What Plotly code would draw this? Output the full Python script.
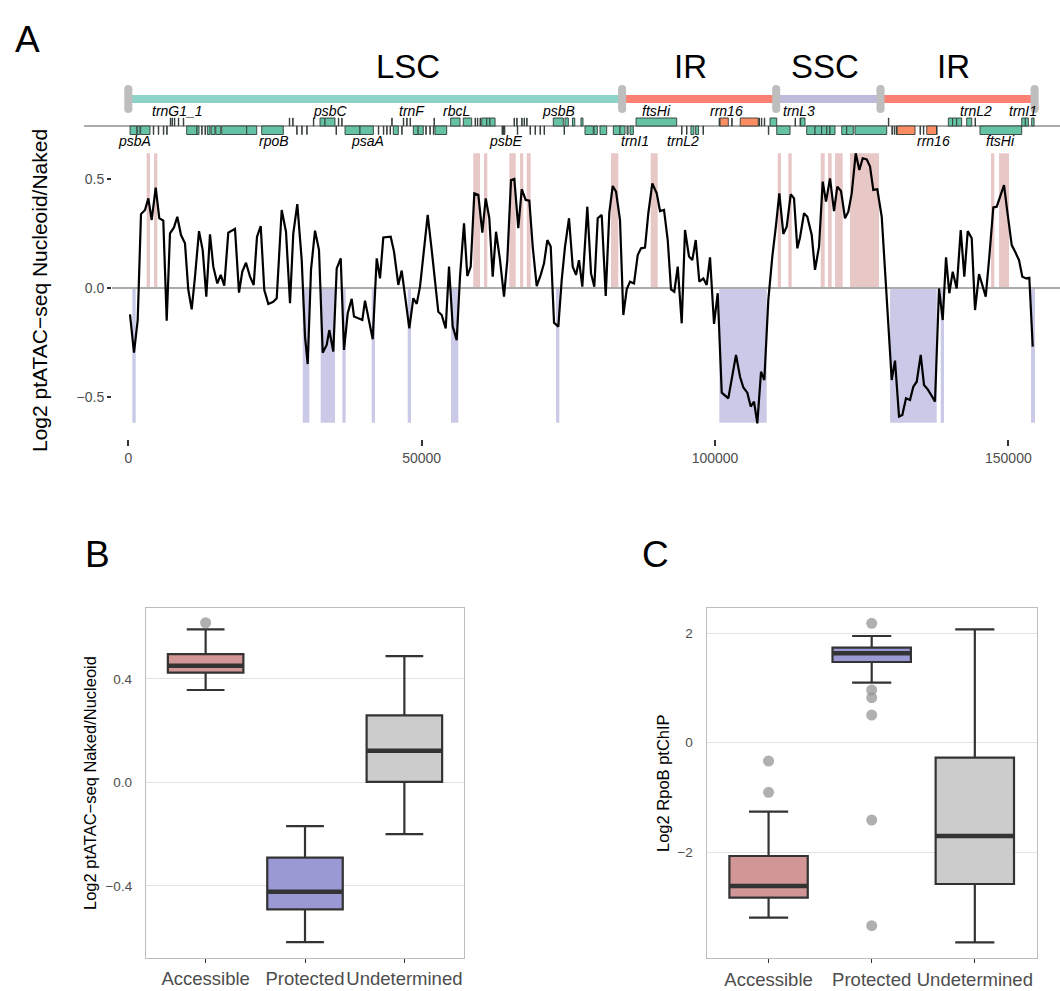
import plotly.graph_objects as go

W, H = 1060, 991
FONT = "Liberation Sans, Arial, Helvetica, sans-serif"

# ---------------- Panel A data ----------------
pos = [290, 972, 1602, 2165, 2847, 3409, 3989, 4670, 5284, 5966, 6545, 7108, 7790, 8352, 8983, 9660,
       10227, 10807, 11369, 12051, 12681, 13295, 13926, 14488, 15170, 15750, 16363, 17045, 18187, 18869,
       19431, 20062, 20744, 21374, 21937, 22568, 23181, 23863, 24715, 25295, 26147, 26880, 27562, 28124,
       28806, 29556, 30119, 30579, 31141, 31823, 32505, 33135, 33817, 34260, 34942, 35522, 36204, 36766,
       37397, 38079, 38471, 39204, 39885, 40346, 40908, 41658, 42340, 42902, 43465, 44726, 45289, 46022,
       46601, 47164, 47897, 48578, 49158, 49720, 51033, 51715, 52277, 52840, 53419, 54101, 54664, 55294,
       55976, 56538, 57220, 57783, 58362, 58976, 59658, 60339, 60919, 61533, 62112, 62675, 63357, 64038,
       64601, 65232, 65794, 66476, 67056, 67737, 68351, 68930, 69612, 70294, 70857, 71419, 71999, 72561,
       73294, 73874, 74436, 75118, 75749, 76311, 76822, 77386, 78238, 78869, 79431, 80011, 80692, 81374,
       81988, 82567, 83130, 83811, 84374, 84953, 85516, 86198, 86828, 87391, 88073, 88635, 89317, 90067,
       90629, 91311, 91941, 92504, 93067, 93646, 94328, 94890, 95572, 96135, 96714, 97328, 98010, 98589,
       99152, 99834, 100464, 101146, 102270, 102952, 103583, 104264, 104827, 105509, 106088, 106651,
       107213, 107844, 108406, 109088, 109770, 110400, 110963, 111645, 112225, 112906, 113469, 114031,
       114491, 115173, 115735, 116485, 117047, 117729, 118360, 118922, 119604, 120286, 120848, 121479,
       122161, 122723, 123303, 123985, 124598, 125178, 125860, 126422, 126985, 127666, 128416, 129149,
       130120, 130683, 131365, 131927, 132558, 133240, 133802, 134382, 135063, 135626, 136257, 136938,
       137501, 138183, 138813, 139376, 139938, 140518, 141199, 141881, 142495, 143074, 143756, 144319,
       145001, 145563, 146143, 146756, 147438, 148018, 149262, 149825, 150575, 151137, 151819, 152381,
       153012, 153574, 154154]
val = [-0.121, -0.297, -0.147, 0.339, 0.358, 0.411, 0.312, 0.460, 0.320, 0.309, -0.150, 0.251, 0.278, 0.327,
       0.243, 0.205, -0.009, -0.098, 0.052, 0.261, 0.174, -0.040, 0.246, 0.098, 0.021, 0.060, 0.011, 0.254,
       0.271, -0.021, 0.075, 0.116, 0.052, 0.014, 0.235, 0.284, -0.009, -0.073, -0.063, -0.047, 0.358, 0.258,
       -0.070, 0.251, 0.385, 0.128, -0.223, -0.349, 0.083, 0.263, 0.174, -0.297, -0.261, -0.193, -0.292,
       0.090, 0.136, -0.284, -0.116, -0.050, -0.131, -0.139, -0.147, -0.058, -0.131, -0.235, 0.136, 0.044,
       0.232, 0.235, 0.167, 0.014, 0.080, -0.040, -0.185, -0.047, -0.073, 0.006, 0.335, 0.174, 0.021, -0.109,
       -0.124, -0.185, 0.098, -0.177, -0.239, 0.052, 0.297, 0.055, 0.098, 0.434, 0.427, 0.254, 0.411, 0.320,
       0.052, 0.258, 0.128, -0.040, 0.128, 0.495, 0.500, 0.274, 0.453, 0.404, 0.401, 0.190, 0.009, 0.060,
       0.113, 0.220, 0.190, -0.159, -0.177, 0.037, 0.190, 0.320, 0.098, 0.060, 0.128, 0.006, 0.373, 0.067,
       0.006, 0.320, 0.335, -0.037, 0.346, 0.468, 0.442, 0.312, -0.124, -0.006, 0.029, 0.021, 0.151, 0.182,
       0.185, 0.343, 0.480, 0.434, 0.353, 0.358, 0.220, -0.006, -0.017, 0.098, -0.162, 0.266, 0.144, 0.128,
       0.220, 0.029, 0.044, 0.014, 0.141, -0.165, -0.024, -0.480, -0.506, -0.407, -0.307, -0.407, -0.456,
       -0.480, -0.544, -0.521, -0.621, -0.384, -0.422, -0.055, 0.144, 0.289, 0.434, 0.248, 0.281, 0.430,
       0.411, 0.182, 0.232, 0.343, 0.327, 0.243, 0.083, 0.190, 0.488, 0.396, 0.503, 0.353, 0.465, 0.445,
       0.320, 0.350, 0.434, 0.618, 0.541, 0.595, 0.590, 0.557, 0.450, 0.453, 0.327, 0.006, -0.422, -0.333,
       -0.590, -0.583, -0.506, -0.514, -0.453, -0.430, -0.307, -0.445, -0.465, -0.495, -0.521, -0.002,
       -0.147, 0.141, -0.024, 0.075, -0.002, 0.266, 0.052, 0.261, 0.228, -0.101, 0.064, 0.014, -0.040,
       0.144, 0.370, 0.373, 0.472, 0.350, 0.197, 0.167, 0.128, 0.052, 0.044, 0.047, -0.269]

acc_start = [3130, 4380, 58806, 60629, 64942, 66766, 67908, 82276, 89044, 110690, 112497, 118020, 119263,
             120457, 123013, 147050, 148410]
acc_end = [3700, 4950, 59948, 61192, 66033, 67328, 68590, 83520, 90237, 111253, 113076, 118701, 119894,
           121769, 127956, 147613, 150115]
prot_start = [682, 29730, 32790, 36480, 41488, 47624, 55005, 72900, 100738, 129834, 138470, 153864]
prot_end = [1261, 30860, 35230, 37060, 42050, 48186, 56249, 73465, 108815, 137791, 139034, 154546]
shade_top = 0.618

region_names = ["LSC", "IR", "SSC", "IR"]
region_start = [1, 84171, 110435, 128215]
region_end = [84170, 110434, 128214, 154478]
region_label_pos = [47676, 95744, 118755, 140573]
region_colors = ["#8DD3C7", "#FB8072", "#BEBADA", "#FB8072"]

gene_start = [300, 1530, 2110, 4260, 5110, 5970, 6550, 7150, 7450, 7850, 8520, 9370, 9950, 11700, 12510,
              13070, 13470, 14100, 14900, 15920, 20180, 22740, 27440, 28020, 28700, 29560, 30410, 31540,
              32680, 33530, 35400, 35800, 36370, 36940, 39490, 42610, 43470, 44040, 44610, 44900, 45170,
              46600, 46870, 47450, 48020, 48580, 49400, 50700, 51400, 51990, 52100, 52270, 54950, 57100,
              59100, 59490, 59950, 60240, 61090, 61650, 63700, 63900, 64100, 65740, 66200, 66300, 67050,
              67450, 67900, 68470, 69320, 70170, 70860, 72440, 74430, 74270, 75700, 77150, 77840, 79380,
              80400, 82670, 83810, 85000, 85520, 86540, 94300, 95150, 95900, 96700, 97950, 100700, 100860,
              102850, 104300, 107500, 107900, 108400, 109090, 109380, 110520, 113640, 114490, 114600,
              115630, 117050, 118180, 119040, 119600, 121600, 122450, 123860, 129550, 130150, 130550,
              130900, 131050, 134940, 135510, 136090, 137750, 139770, 140500, 141200, 142900, 144320,
              145170, 152280, 152900, 153980]
gene_end = [1450, 1990, 3700, 4340, 5190, 6050, 6630, 7230, 7530, 7930, 8600, 9450, 11700, 12050, 12590,
            13150, 13930, 14780, 15750, 20180, 21890, 26420, 27520, 28100, 28780, 29640, 30490, 31620,
            33530, 35230, 35480, 35880, 36450, 39490, 41770, 42690, 43550, 44120, 44690, 44980, 46020,
            46680, 46950, 47530, 48100, 49400, 50280, 50780, 51480, 52070, 52180, 54270, 56540, 58530,
            59180, 59570, 60030, 61090, 61650, 62510, 63780, 63980, 64180, 65820, 66280, 66380, 67130,
            67530, 67980, 68550, 69400, 70250, 70940, 74150, 75000, 74350, 76100, 77500, 79260, 79940,
            81540, 83810, 84660, 85200, 86080, 93470, 94380, 95230, 96400, 97200, 98030, 100780, 102270,
            102930, 107380, 107580, 107980, 108480, 109170, 110520, 112790, 113720, 114570, 115340,
            117050, 118180, 119040, 119600, 120450, 122450, 123580, 129270, 129630, 130230, 130630,
            130980, 134090, 135020, 135590, 137800, 137830, 140500, 141200, 142040, 143760, 144400,
            152280, 152900, 153410, 154380]
gene_strand = ["-", "-", "-", "-", "-", "-", "-", "+", "+", "+", "+", "+", "-", "-", "-",
               "-", "-", "-", "-", "-", "-", "-", "+", "+", "-", "-", "-", "+",
               "+", "+", "-", "+", "+", "-", "-", "-", "-", "-", "-", "+", "-",
               "-", "+", "+", "+", "-", "-", "-", "-", "-", "+", "-", "+", "+",
               "+", "+", "+", "+", "+", "+", "-", "-", "-", "+", "+", "-", "+",
               "+", "+", "-", "-", "-", "-", "+", "+", "-", "+", "+", "-", "-",
               "-", "-", "-", "-", "-", "+", "-", "-", "-", "-", "-", "+", "+",
               "+", "+", "+", "+", "+", "-", "+", "-", "+", "+", "+",
               "-", "-", "-", "-", "-", "-", "-", "-", "+", "-", "-",
               "-", "-", "-", "-", "-", "-", "+", "+", "+", "+", "+",
               "-", "+", "+", "+"]
gene_type = ["p", "p", "p", "t", "t", "t", "t", "t", "t", "t", "t", "t", "p", "p", "t",
             "t", "p", "p", "p", "p", "p", "p", "t", "t", "t", "t", "t", "t",
             "p", "p", "t", "t", "t", "p", "p", "t", "t", "t", "t", "t", "p",
             "t", "t", "t", "t", "p", "p", "t", "t", "t", "t", "p", "p", "p",
             "t", "t", "t", "p", "p", "p", "t", "t", "t", "t", "t", "t", "t",
             "t", "t", "t", "t", "t", "t", "p", "p", "t", "p", "p", "p", "p",
             "p", "p", "p", "p", "p", "p", "t", "t", "p", "p", "t", "t", "r",
             "t", "r", "t", "t", "t", "t", "p", "p", "t", "t", "p",
             "p", "p", "p", "p", "p", "p", "p", "p", "t", "t", "t",
             "t", "r", "t", "t", "r", "t", "p", "p", "p", "p", "t",
             "p", "p", "p", "p"]

label_up_text = ["trnG1_1", "psbC", "trnF", "rbcL", "psbB", "ftsHi", "rrn16", "trnL3", "trnL2", "trnI1"]
label_up_pos = [8300, 34380, 48360, 55860, 73250, 89950, 101890, 114330, 144500, 152520]
label_dn_text = ["psbA", "rpoB", "psaA", "psbE", "trnI1", "trnL2", "rrn16", "ftsHi"]
label_dn_pos = [1140, 24830, 40690, 64380, 86370, 94550, 137160, 148580]

a_xticks = [0, 50000, 100000, 150000]
a_yticks = [-0.5, 0.0, 0.5]
a_yticktext = ["\u22120.5", "0.0", "0.5"]

# ---------------- Panels B / C data ----------------
cats = ["Accessible", "Protected", "Undetermined"]
cat_fill = ["#D29696", "#9B99D4", "#CCCCCC"]

b_q1 = [0.424, -0.491, 0.002]
b_med = [0.451, -0.423, 0.122]
b_q3 = [0.496, -0.291, 0.259]
b_lo = [0.357, -0.618, -0.200]
b_hi = [0.591, -0.169, 0.488]
b_out_cat = [1]
b_out_val = [0.617]
b_yticks = [-0.4, 0.0, 0.4]
b_yticktext = ["\u22120.4", "0.0", "0.4"]

c_q1 = [-2.827, 1.472, -2.577]
c_med = [-2.614, 1.630, -1.702]
c_q3 = [-2.066, 1.733, -0.274]
c_lo = [-3.19, 1.094, -3.641]
c_hi = [-1.258, 1.946, 2.068]
c_out_cat = [1, 1, 2, 2, 2, 2, 2, 2]
c_out_val = [-0.334, -0.905, 2.178, 0.961, 0.821, 0.505, -1.410, -3.337]
c_yticks = [-2, 0, 2]
c_yticktext = ["\u22122", "0", "2"]

# ---------------- layout helpers ----------------
def fx(px):
    return px / W


def fy(py):
    return 1 - py / H


X0, S = 128.3, 0.005867          # pixel of bp 0, pixels per bp
A_LEFT = 112
xr = [(A_LEFT - X0) / S, (W - X0) / S]
YZ, YS = 288, 218               # pixel of y=0, pixels per unit
A_TOP, A_BOT = 148, 439
yr = [(YZ - A_BOT) / YS, (YZ - A_TOP) / YS]

fig = go.Figure()
shapes = []
ann = []


def note(text, x, y, size, xref="paper", angle=0, color="black"):
    ann.append(dict(text=text, xref=xref, yref="paper", x=x, y=y, showarrow=False, textangle=angle,
                    xanchor="center", yanchor="middle", font=dict(size=size, color=color)))


# shading
for s, e in zip(acc_start, acc_end):
    shapes.append(dict(type="rect", xref="x", yref="y", x0=s, x1=e, y0=0, y1=shade_top,
                       fillcolor="#E8C7C7", line=dict(width=0), layer="below"))
for s, e in zip(prot_start, prot_end):
    shapes.append(dict(type="rect", xref="x", yref="y", x0=s, x1=e, y0=-shade_top, y1=0,
                       fillcolor="#CACAE8", line=dict(width=0), layer="below"))
shapes.append(dict(type="line", xref="x", yref="y", x0=xr[0], x1=xr[1], y0=0, y1=0,
                   line=dict(color="#ABABAB", width=2), layer="below"))

fig.add_trace(go.Scatter(x=pos, y=val, mode="lines", line=dict(color="black", width=2.2),
                         xaxis="x", yaxis="y", hoverinfo="skip"))

# gene track
shapes.append(dict(type="line", xref="paper", yref="paper", x0=fx(84), x1=1, y0=fy(126), y1=fy(126),
                   line=dict(color="#AAAAAA", width=2)))
gcol = {"p": "#66C2A5", "r": "#FC8D62", "t": "#3A3A3A"}
for s, e, st, t in zip(gene_start, gene_end, gene_strand, gene_type):
    y0, y1 = (fy(126), fy(118)) if st == "+" else (fy(134.5), fy(126))
    shapes.append(dict(type="rect", xref="x", yref="paper", x0=s, x1=e, y0=y0, y1=y1,
                       fillcolor=gcol[t], line=dict(color="#2F3B37", width=0.9)))

# regions
for s, e, c in zip(region_start, region_end, region_colors):
    shapes.append(dict(type="rect", xref="x", yref="paper", x0=s, x1=e, y0=fy(103), y1=fy(95),
                       fillcolor=c, line=dict(width=0)))
bounds = [region_start[0]] + region_end
half = 4 / S
for b in bounds:
    shapes.append(dict(type="rect", xref="x", yref="paper", x0=b - half, x1=b + half,
                       y0=fy(109), y1=fy(89), fillcolor="#BEBEBE", line=dict(width=0)))
    for c0, c1 in [(85, 93), (105, 113)]:
        shapes.append(dict(type="circle", xref="x", yref="paper", x0=b - half, x1=b + half,
                           y0=fy(c1), y1=fy(c0), fillcolor="#BEBEBE", line=dict(width=0)))
for n, p in zip(region_names, region_label_pos):
    note(n, p, fy(66), 33, xref="x")
for n, p in zip(label_up_text, label_up_pos):
    note("<i>" + n + "</i>", p, fy(111), 14, xref="x")
for n, p in zip(label_dn_text, label_dn_pos):
    note("<i>" + n + "</i>", p, fy(141.5), 14, xref="x")

# ---------------- boxes ----------------
def add_boxes(q1, med, q3, lo, hi, oc, ov, xa, ya):
    for i in range(3):
        p = i + 1
        fig.add_trace(go.Box(x=[p], q1=[q1[i]], median=[med[i]], q3=[q3[i]], lowerfence=[lo[i]],
                             upperfence=[hi[i]], width=0.76, fillcolor=cat_fill[i], boxpoints=False,
                             line=dict(color="#333333", width=2.2), xaxis=xa, yaxis=ya,
                             hoverinfo="skip"))
        fig.add_trace(go.Scatter(x=[p - 0.38, p + 0.38], y=[med[i], med[i]], mode="lines",
                                 line=dict(color="#333333", width=4.5), xaxis=xa, yaxis=ya,
                                 hoverinfo="skip"))
    fig.add_trace(go.Scatter(x=oc, y=ov, mode="markers",
                             marker=dict(color="rgba(150,150,150,0.75)", size=11, line=dict(width=0)),
                             xaxis=xa, yaxis=ya, hoverinfo="skip"))


add_boxes(b_q1, b_med, b_q3, b_lo, b_hi, b_out_cat, b_out_val, "x2", "y2")
add_boxes(c_q1, c_med, c_q3, c_lo, c_hi, c_out_cat, c_out_val, "x3", "y3")

# titles / labels
note("A", fx(27), fy(40), 37)
note("B", fx(97), fy(554), 37)
note("C", fx(655), fy(554), 37)
note("Log2 ptATAC\u2212seq Nucleoid/Naked", fx(40), fy(291), 21, angle=-90)
note("Log2 ptATAC\u2212seq Naked/Nucleoid", fx(90), fy(783), 16.5, angle=-90)
note("Log2 RpoB ptChIP", fx(663), fy(783), 16.5, angle=-90)

tick_font = dict(size=13.5, color="#4D4D4D")
box_axis = dict(showline=True, mirror=True, linecolor="#BDBDBD", linewidth=1.3, zeroline=False,
                automargin=False)

fig.update_layout(
    width=W, height=H, margin=dict(l=0, r=0, t=0, b=0, autoexpand=False),
    paper_bgcolor="white", plot_bgcolor="rgba(0,0,0,0)",
    showlegend=False, font=dict(family=FONT), boxmode="overlay",
    shapes=shapes, annotations=ann,
    xaxis=dict(domain=[fx(A_LEFT), 1], range=xr, anchor="y", tickvals=a_xticks,
               ticktext=[str(v) for v in a_xticks], ticks="outside", ticklen=6, tickwidth=1.5,
               tickcolor="#333333", showline=False, showgrid=False, zeroline=False, automargin=False,
               tickangle=0, tickfont=dict(size=14, color="#4D4D4D")),
    yaxis=dict(domain=[fy(A_BOT), fy(A_TOP)], range=yr, anchor="x", tickvals=a_yticks,
               ticktext=a_yticktext, ticks="outside", ticklen=4, tickwidth=1.5, tickcolor="#333333",
               showline=False, showgrid=False, zeroline=False, automargin=False,
               tickfont=dict(size=14, color="#4D4D4D")),
    xaxis2=dict(domain=[fx(146), fx(464)], range=[0.4, 3.6], anchor="y2", tickvals=[1, 2, 3],
                ticktext=cats, ticks="outside", ticklen=4, tickwidth=1.3, tickcolor="#333333",
                tickangle=0, showgrid=False, tickfont=dict(size=18.5, color="#4D4D4D"), **box_axis),
    yaxis2=dict(domain=[fy(958), fy(608)], range=[-0.679, 0.674], anchor="x2", tickvals=b_yticks,
                ticktext=b_yticktext, ticks="", showgrid=True, gridcolor="#E3E3E3", gridwidth=1,
                ticklabelstandoff=10, tickfont=tick_font, **box_axis),
    xaxis3=dict(domain=[fx(706.7), fx(1036.7)], range=[0.4, 3.6], anchor="y3", tickvals=[1, 2, 3],
                ticktext=cats, ticks="outside", ticklen=4, tickwidth=1.3, tickcolor="#333333",
                tickangle=0, showgrid=False, tickfont=dict(size=18.5, color="#4D4D4D"), **box_axis),
    yaxis3=dict(domain=[fy(958.3), fy(608.3)], range=[-3.932, 2.451], anchor="x3", tickvals=c_yticks,
                ticktext=c_yticktext, ticks="", showgrid=True, gridcolor="#E3E3E3", gridwidth=1,
                ticklabelstandoff=10, tickfont=tick_font, **box_axis),
)

fig.write_html("out.html")
